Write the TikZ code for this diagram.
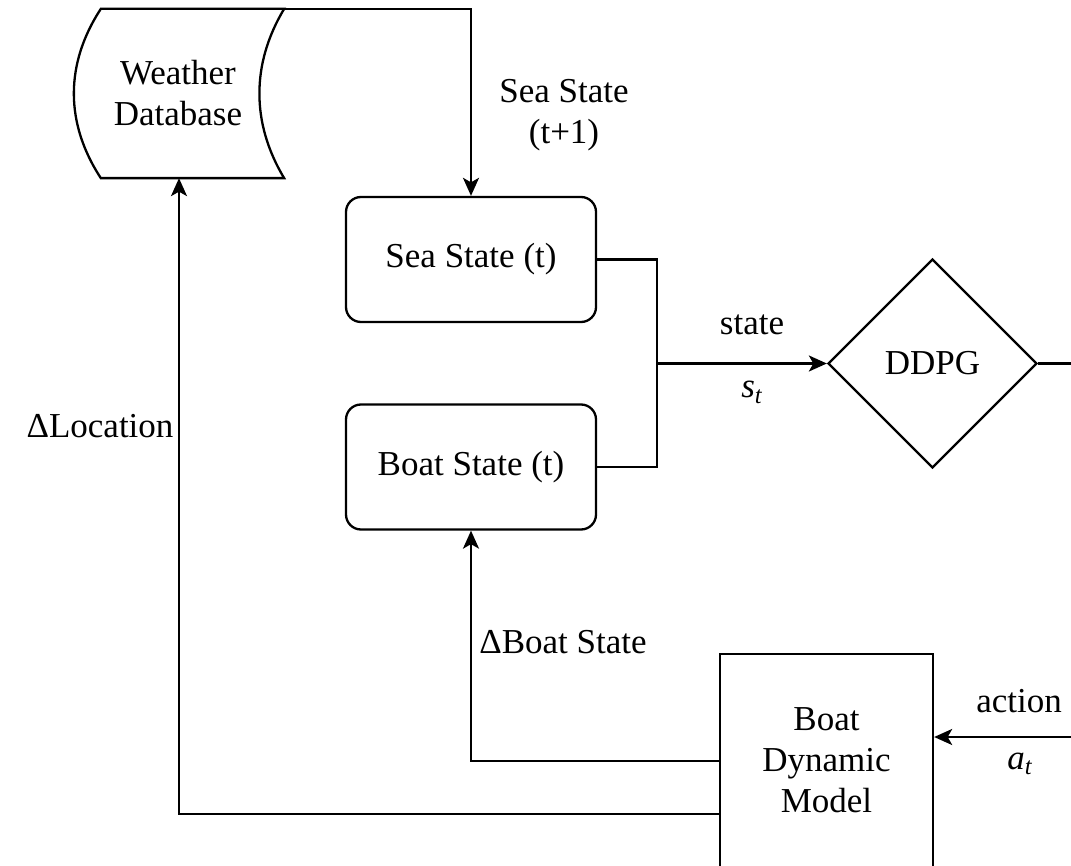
\documentclass[tikz,border=0pt]{standalone}
\usepackage{fontspec}
\setmainfont{Liberation Serif}
\usetikzlibrary{arrows.meta,shapes.geometric}
\begin{document}
\begin{tikzpicture}[x=1pt,y=-1pt,line width=2.3pt,
  every node/.style={font=\fontsize{35}{41}\selectfont,inner sep=0pt},
  arr/.style={-{Stealth[length=18pt,width=16pt,inset=4.5pt]}},
  statebox/.style={draw,rounded corners=15pt,minimum width=250pt,minimum height=125pt},
  plainbox/.style={draw,minimum width=213pt,minimum height=228pt},
  decision/.style={draw,diamond,minimum size=209pt,inner sep=0pt},
  store/.style={minimum width=208pt,minimum height=167pt},
  lbl/.style={anchor=base,align=center}]
\useasboundingbox (0,0) rectangle (1071,866);
\clip (0,0) rectangle (1071,866);

% weather database (stored-data shape)
\node[store] (wd) at (179,93.5) {};
\draw ([xshift=27pt]wd.north west) -- (wd.north east)
  .. controls ([xshift=-33pt,yshift=-55pt]wd.north east) and ([xshift=-33pt,yshift=55pt]wd.south east) .. (wd.south east)
  -- ([xshift=27pt]wd.south west)
  .. controls ([xshift=-9pt,yshift=55pt]wd.south west) and ([xshift=-9pt,yshift=-55pt]wd.north west) .. ([xshift=27pt]wd.north west) -- cycle;
\node[align=center] (wdtext) at (178,93) {Weather\\Database};

% state boxes, agent and plant
\node[statebox] (ss) at (471,259.5) {Sea State (t)};
\node[statebox] (bs) at (471,467) {Boat State (t)};
\node[decision] (ddpg) at (932.5,363.5) {DDPG};
\node[plainbox] (bdm) at (826.5,768) {};
\node[align=center] (bdmtext) at (826.5,760) {Boat\\Dynamic\\Model};

\coordinate (j) at (657,363.5);
\coordinate (o1) at (1100,363.5);
\coordinate (o2) at (1100,737);
\coordinate (b1) at (720,761);
\coordinate (b2) at (720,814);

% connectors
\draw[arr] (wd.north east) -| (ss.north);
\draw (ss.east) -| (j) |- (bs.east);
\draw[arr] (j) -- (ddpg.west);
\draw[arr] (ddpg.east) -- (o1) -- (o2) -- (bdm.east |- o2);
\draw[arr] (b1) -| (bs.south);
\draw[arr] (b2) -| (wd.south);

% connector labels
\node[align=center] (lseanext) at (564,115) {Sea State\\(t+1)};
\node[lbl] (lstate) at (752,335) {state};
\node[lbl] (lst) at (752,398) {\textit{s}\textsubscript{\textit{t}}};
\node[lbl] (laction) at (1019,712) {action};
\node[lbl] (lat) at (1020,769) {\textit{a}\textsubscript{\textit{t}}};
\node[lbl] (ldboat) at (563,653) {ΔBoat State};
\node[lbl] (ldloc) at (100,437) {ΔLocation};
\end{tikzpicture}
\end{document}
